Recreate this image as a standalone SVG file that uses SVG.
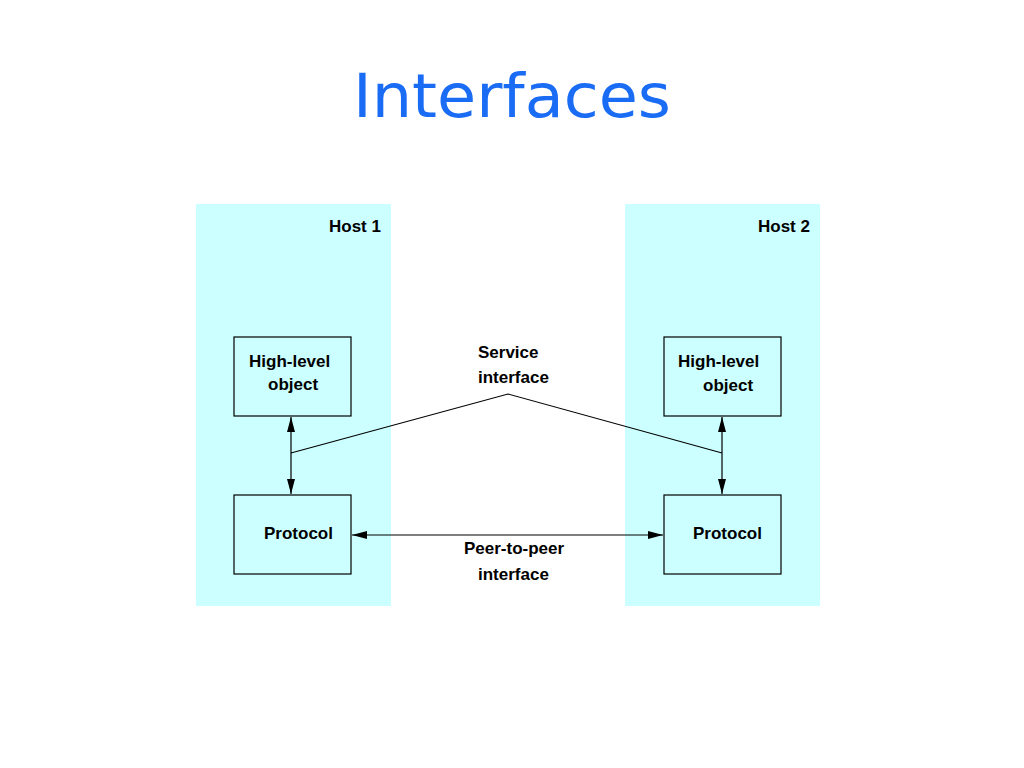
<svg xmlns="http://www.w3.org/2000/svg" width="1024" height="768" viewBox="0 0 1024 768">
<defs>
<marker id="ah" viewBox="0 0 10 10" refX="10" refY="5" markerWidth="15" markerHeight="8" markerUnits="userSpaceOnUse" preserveAspectRatio="none" orient="auto-start-reverse">
<path d="M0,0 L10,5 L0,10 z" fill="#000"/>
</marker>
<style>
.host{fill:#ccffff;stroke:none}
.box{fill:#ccffff;stroke:#000;stroke-width:1.2}
.t{font-family:"Liberation Sans",Arial,sans-serif;font-weight:bold;font-size:17px;fill:#000}
.c{fill:none;stroke:#000;stroke-width:1.2}
</style>
</defs>
<rect width="1024" height="768" fill="#fff"/>
<text x="512" y="117" text-anchor="middle" font-family="'Comic Sans MS','DejaVu Sans',sans-serif" font-size="60" fill="#1a6cf5" textLength="318" lengthAdjust="spacingAndGlyphs">Interfaces</text>
<g id="host1"><rect class="host" x="196" y="204" width="195" height="402"/><text class="t" x="329" y="232">Host 1</text></g>
<g id="host2"><rect class="host" x="625" y="204" width="195" height="402"/><text class="t" x="758" y="232">Host 2</text></g>
<g id="hl1"><rect class="box" x="234" y="337" width="117" height="79"/><text class="t" x="249" y="367">High-level</text><text class="t" x="268" y="390">object</text></g>
<g id="pr1"><rect class="box" x="234" y="495" width="117" height="79"/><text class="t" x="264" y="539">Protocol</text></g>
<g id="hl2"><rect class="box" x="664" y="337" width="117" height="79"/><text class="t" x="678" y="367">High-level</text><text class="t" x="703" y="391">object</text></g>
<g id="pr2"><rect class="box" x="664" y="495" width="117" height="79"/><text class="t" x="693" y="539">Protocol</text></g>
<g id="labels">
<text class="t" x="478" y="358">Service</text>
<text class="t" x="478" y="383">interface</text>
<text class="t" x="464" y="554">Peer-to-peer</text>
<text class="t" x="478" y="580">interface</text>
</g>
<g id="connectors">
<line class="c" x1="291" y1="417" x2="291" y2="494" marker-start="url(#ah)" marker-end="url(#ah)"/>
<line class="c" x1="722" y1="417" x2="722" y2="494" marker-start="url(#ah)" marker-end="url(#ah)"/>
<line class="c" x1="352" y1="535" x2="663" y2="535" marker-start="url(#ah)" marker-end="url(#ah)"/>
<polyline class="c" points="291,453 508,394 722,453"/>
</g>
</svg>
